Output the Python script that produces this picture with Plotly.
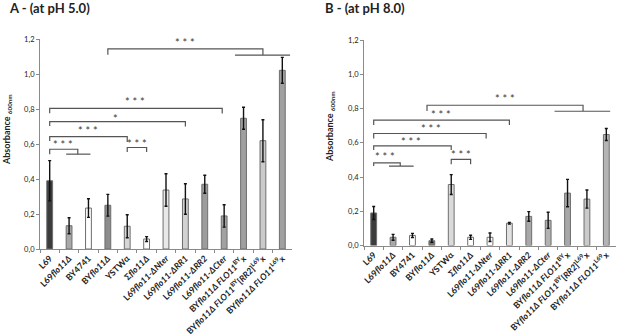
import plotly.graph_objects as go

# ---------------- data ----------------
strains = [
    "<b>L69</b>",
    "<b>L69<i>flo11Δ</i></b>",
    "<b>BY4741</b>",
    "<b>BY<i>flo11Δ</i></b>",
    "<b>YSTWα</b>",
    "<b>Σ<i>flo11Δ</i></b>",
    "<b>L69<i>flo11-ΔNter</i></b>",
    "<b>L69<i>flo11-ΔRR1</i></b>",
    "<b>L69<i>flo11-ΔRR2</i></b>",
    "<b>L69<i>flo11-ΔCter</i></b>",
    "<b>BY<i>flo11Δ FLO11</i><sup>BY</sup>x</b>",
    "<b>BY<i>flo11Δ FLO11</i><sup>BY</sup>[<i>RR2</i>]<sup>L69</sup>x</b>",
    "<b>BY<i>flo11Δ FLO11</i><sup>L69</sup>x</b>",
]

ph5_values = [0.39, 0.133, 0.234, 0.25, 0.13, 0.057, 0.337, 0.286, 0.37, 0.189, 0.747, 0.619, 1.021]
ph5_errors = [0.115, 0.046, 0.053, 0.062, 0.066, 0.014, 0.093, 0.087, 0.051, 0.064, 0.063, 0.12, 0.074]

ph8_values = [0.19, 0.048, 0.059, 0.028, 0.356, 0.048, 0.048, 0.13, 0.17, 0.147, 0.306, 0.271, 0.648]
ph8_errors = [0.038, 0.017, 0.012, 0.01, 0.058, 0.012, 0.025, 0.005, 0.028, 0.047, 0.08, 0.053, 0.035]

ph5_colors = ["#3c3c3c", "#a8a8a8", "#ffffff", "#8c8c8c", "#d6d6d6", "#ffffff", "#e8e8e8",
              "#d2d2d2", "#9c9c9c", "#a2a2a2", "#a0a0a0", "#cacaca", "#a0a0a0"]
ph8_colors = ["#3c3c3c", "#a8a8a8", "#ffffff", "#707070", "#dadada", "#ffffff", "#ffffff",
              "#e2e2e2", "#a8a8a8", "#b2b2b2", "#a8a8a8", "#cacaca", "#b4b4b4"]

y_ticks = [0.0, 0.2, 0.4, 0.6, 0.8, 1.0, 1.2]

# significance brackets: (x_left, x_right, y, drop_left, drop_right, label, label_x, label_y)
ph5_brackets = [
    (0, 1.45, 0.570, 0.028, 0.028, "* * *", 0.7, 0.596),
    (0, 4, 0.642, 0.025, 0.030, "* * *", 2.0, 0.678),
    (4, 5, 0.580, 0.025, 0.025, "* * *", 4.5, 0.604),
    (0, 7, 0.728, 0.025, 0.028, "*", 3.4, 0.748),
    (0, 8.9, 0.804, 0.028, 0.030, "* * *", 4.4, 0.844),
    (3, 11, 1.143, 0.033, 0.035, "* * *", 7.0, 1.180),
]
ph5_groups = [(0.85, 2.1, 0.542), (9.56, 12.4, 1.108)]

ph8_brackets = [
    (0, 1.37, 0.483, 0.019, 0.019, "* * *", 0.57, 0.520),
    (0, 4, 0.582, 0.025, 0.025, "* * *", 1.94, 0.605),
    (4, 5, 0.503, 0.028, 0.028, "* * *", 4.5, 0.532),
    (0, 5.8, 0.654, 0.029, 0.029, "* * *", 2.97, 0.681),
    (0, 7, 0.732, 0.029, 0.029, "* * *", 3.49, 0.765),
    (2.75, 10.8, 0.819, 0.033, 0.033, "* * *", 6.75, 0.858),
]
ph8_groups = [(0.79, 2.06, 0.464), (9.33, 12.2, 0.784)]

# ---------------- figure ----------------
FONT = "Lato, 'Open Sans', Arial, sans-serif"
W, H = 617, 334
T, B = 39, 85
plot_h = H - T - B

fig = go.Figure()

for vals, errs, cols, xa, ya in [
    (ph5_values, ph5_errors, ph5_colors, "x", "y"),
    (ph8_values, ph8_errors, ph8_colors, "x2", "y2"),
]:
    fig.add_trace(go.Bar(
        x=strains, y=vals, xaxis=xa, yaxis=ya,
        marker=dict(color=cols, line=dict(color="#6e6e6e", width=1)),
        width=0.3,
        error_y=dict(type="data", array=errs, visible=True, color="#111111",
                     thickness=1.4, width=1.5),
        showlegend=False, hoverinfo="skip",
    ))

line_style = dict(color="#555555", width=1.2)
shapes = []
annotations = []
for brackets, groups, xr, yr in [
    (ph5_brackets, ph5_groups, "x", "y"),
    (ph8_brackets, ph8_groups, "x2", "y2"),
]:
    for (x0, x1, y, d0, d1, lab, lx, ly) in brackets:
        shapes.append(dict(type="path", xref=xr, yref=yr,
                           path=f"M {x0},{y - d0} L {x0},{y} L {x1},{y} L {x1},{y - d1}",
                           line=line_style))
        annotations.append(dict(x=lx, y=ly, xref=xr, yref=yr, text=lab, showarrow=False,
                                font=dict(family=FONT, size=11, color="#3a3a3a"),
                                xanchor="center", yanchor="middle"))
    for (xa, xb, y) in groups:
        shapes.append(dict(type="line", xref=xr, yref=yr, x0=xa, x1=xb, y0=y, y1=y,
                           line=line_style))

def ypaper(py):
    return (H - B - py) / plot_h

annotations += [
    dict(text="<b>A - (at pH 5.0)</b>", xref="paper", yref="paper", x=7 / W, y=ypaper(8),
         xanchor="left", yanchor="middle", showarrow=False,
         font=dict(family=FONT, size=13, color="#222222")),
    dict(text="<b>B - (at pH 8.0)</b>", xref="paper", yref="paper", x=323 / W, y=ypaper(8),
         xanchor="left", yanchor="middle", showarrow=False,
         font=dict(family=FONT, size=13, color="#222222")),
    dict(text="<b>Absorbance <sub>600nm</sub></b>", xref="paper", yref="paper", x=7 / W,
         y=ypaper(130), textangle=-90, xanchor="center", yanchor="middle", showarrow=False,
         font=dict(family=FONT, size=9, color="#222222")),
    dict(text="<b>Absorbance <sub>600nm</sub></b>", xref="paper", yref="paper", x=330 / W,
         y=ypaper(126), textangle=-90, xanchor="center", yanchor="middle", showarrow=False,
         font=dict(family=FONT, size=9, color="#222222")),
]

xaxis_common = dict(
    type="category", range=[-0.5, 12.5], tickangle=-45, automargin=False,
    showline=True, linecolor="#8a8a8a", linewidth=1,
    ticks="outside", tickson="boundaries", ticklen=3, tickcolor="#8a8a8a",
    tickfont=dict(family=FONT, size=8.7, color="#222222"),
    showgrid=False, zeroline=False, fixedrange=True,
)
yaxis_common = dict(
    range=[0, 1.2], tickvals=y_ticks, tickformat=".1f", automargin=False,
    showline=True, linecolor="#8a8a8a", linewidth=1,
    ticks="outside", ticklen=3, tickcolor="#8a8a8a",
    tickfont=dict(family=FONT, size=7.5, color="#222222"),
    showgrid=False, zeroline=False, fixedrange=True,
)

fig.update_layout(
    width=W, height=H,
    margin=dict(l=0, r=0, t=T, b=B, autoexpand=False),
    paper_bgcolor="white", plot_bgcolor="white",
    separators=",.",
    xaxis=dict(xaxis_common, domain=[40 / W, 292 / W], anchor="y"),
    yaxis=dict(yaxis_common, domain=[0, 1], anchor="x"),
    xaxis2=dict(xaxis_common, domain=[364 / W, 616 / W], anchor="y2"),
    yaxis2=dict(yaxis_common, domain=[ypaper(245.5), ypaper(40)], anchor="x2"),
    shapes=shapes, annotations=annotations,
    bargap=0.7,
)

fig.write_html(
    "out.html",
    config={"displayModeBar": False},
    post_script="document.body.style.margin='0';document.body.style.overflow='hidden';",
)
